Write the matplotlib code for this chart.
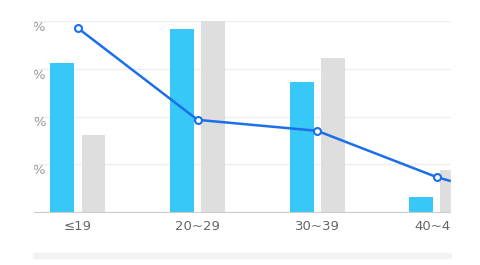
import matplotlib
matplotlib.use("Agg")
import matplotlib.pyplot as plt
import numpy as np
from matplotlib.patches import Rectangle

# -----------------------------------------------------------
# data (percent)
# -----------------------------------------------------------

categories = ["≤19", "20~29", "30~39", "40~49", "≥50"]
share_a = [31.2, 38.3, 27.2, 3.1, 0.3]     # blue bars
share_b = [16.1, 40.2, 32.3, 8.8, 2.5]     # gray bars
ratio = [38.5, 19.3, 17.0, 7.3, 0.3]       # line
yticks = [0, 10, 20, 30, 40]

# -----------------------------------------------------------
# figure
# -----------------------------------------------------------

W, H = 481, 265
fig = plt.figure(figsize=(W/100, H/100), dpi=100)
x0, x1, y0, y1 = 33, 451, 21, 212   # plot area in pixels
ax = fig.add_axes([x0/W, 1-y1/H, (x1-x0)/W, (y1-y0)/H])

x = np.arange(len(categories))
bw = 0.2
off = 0.13
ax.bar(x-off, share_a, bw, color="#37C8F8", zorder=2)
ax.bar(x+off, share_b, bw, color="#DEDEDE", zorder=2)
ax.plot(x, ratio, color="#1B6FE8", lw=1.8, marker="o", ms=5,
        mfc="white", mec="#1B6FE8", mew=1.5, zorder=3)

ax.set_xticks(x)
ax.set_xticklabels(categories, color="#666666", fontsize=9.5)
ax.tick_params(axis="x", length=0, pad=6)

ax.set_yticks(yticks)
ax.set_yticklabels([f"{v}%" if v else "" for v in yticks],
                   color="#999999", fontsize=9.5)
ax.tick_params(axis="y", length=0, pad=-9.5)
for lab in ax.get_yticklabels():
    lab.set_horizontalalignment("right")
    lab.set_verticalalignment("top")

ax.set_xlim(-0.376, 3.119)
ax.set_ylim(0, 40)

ax.grid(axis="y", color="#EEEEEE", lw=1, zorder=0)
for s in ["top", "right", "left"]:
    ax.spines[s].set_visible(False)
ax.spines["bottom"].set_color("#CCCCCC")

# masks on both sides (cropped view) and the scroll strip
fig.patches.append(Rectangle((0, 0), x0/W, 1, transform=fig.transFigure,
                             color="white", zorder=10))
fig.patches.append(Rectangle((x1/W, 0), 1-x1/W, 1, transform=fig.transFigure,
                             color="white", zorder=10))
fig.patches.append(Rectangle((x0/W, 1-258/H), (x1-x0)/W, 5/H,
                             transform=fig.transFigure, color="#F3F3F3", zorder=11))

fig.savefig("out.png", dpi=100)
